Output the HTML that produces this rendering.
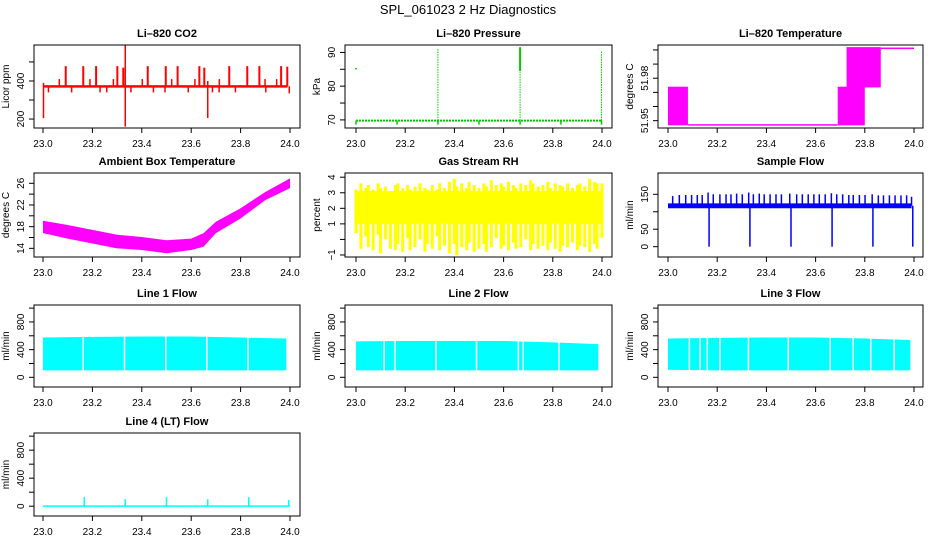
<!DOCTYPE html>
<html><head><meta charset="utf-8">
<style>
html,body{margin:0;padding:0;background:#fff;}
svg{display:block;font-family:"Liberation Sans",Arial,sans-serif;}
</style></head>
<body>
<svg id="chart" width="936" height="540" viewBox="0 0 936 540" xmlns="http://www.w3.org/2000/svg">
<text x="468" y="14" text-anchor="middle" font-size="13">SPL_061023  2 Hz Diagnostics</text>
</svg>
<script>
// ---------- data ----------
const xTicks = [23.0,23.2,23.4,23.6,23.8,24.0];
const xTickLabels = ["23.0","23.2","23.4","23.6","23.8","24.0"];

const co2Base = [365,378];
const co2SpikeT = [23.092,23.163,23.215,23.301,23.325,23.424,23.497,23.545,23.633,23.653,23.754,23.827,23.876,23.964,23.989];
const co2SpikeV = [478,478,478,478,470,478,478,478,478,470,478,478,478,478,475];
const co2SmallT = [23.066,23.190,23.285,23.402,23.521,23.615,23.714,23.899,23.946];
const co2SmallV = [410,410,410,410,410,410,410,410,410];
const co2DownT = [23.022,23.116,23.231,23.258,23.356,23.447,23.494,23.588,23.686,23.713,23.779,23.902,23.997];
const co2DownV = [340,340,340,340,340,340,340,340,340,340,340,340,335];
const co2BigT = [23.002,23.333,23.667];
const co2BigLo = [205,160,205];
const co2BigHi = [390,588,400];

const presBase = 69.8;
const presDipT = [23.0,23.167,23.333,23.5,23.667,23.833,23.998];
const presDipV = [68.6,68.6,68.6,68.6,68.6,68.6,68.6];
const presSpikeT = [23.333,23.667,23.998];
const presSpikeV = [91.0,91.6,90.3];
const presPointT = [23.0,23.667];
const presPointV = [85.0,84.5];

const ltT0 = [23.0,23.081,23.69,23.726,23.865];
const ltT1 = [23.081,23.69,23.80,23.865,24.0];
const ltLo = [51.9467,51.9467,51.9467,51.9735,52.0010];
const ltHi = [51.9740,51.9475,51.9740,52.0020,52.0017];

const ambT = [23.0,23.1,23.2,23.3,23.4,23.5,23.6,23.65,23.7,23.8,23.9,24.0];
const ambLo = [16.8,15.8,14.9,14.0,13.7,13.1,13.7,14.3,16.8,19.5,22.9,25.1];
const ambHi = [19.1,18.3,17.4,16.5,16.1,15.5,15.8,16.8,18.9,21.4,24.4,26.9];

const rhT = [23.00,23.02,23.04,23.05,23.07,23.09,23.10,23.12,23.14,23.16,23.17,23.19,23.21,23.22,23.24,23.26,23.28,23.29,23.31,23.33,23.34,23.36,23.38,23.40,23.41,23.43,23.45,23.46,23.48,23.50,23.52,23.53,23.55,23.57,23.59,23.60,23.62,23.64,23.65,23.67,23.69,23.71,23.72,23.74,23.76,23.78,23.79,23.81,23.83,23.84,23.86,23.88,23.90,23.91,23.93,23.95,23.97,23.98,24.00];
const rhHi = [3.2,3.6,3.3,3.5,3.2,3.6,3.3,3.4,3.1,3.5,3.6,3.3,3.5,3.2,3.4,3.6,3.3,3.2,3.5,3.2,3.6,3.3,3.7,3.9,3.4,3.6,3.3,3.7,3.5,3.3,3.6,3.4,3.8,3.5,3.6,3.4,3.7,3.5,3.3,3.6,3.5,3.8,3.6,3.4,3.5,3.7,3.3,3.6,3.5,3.4,3.6,3.3,3.5,3.6,3.4,3.9,3.7,3.6,3.6];
const rhLo = [0.4,-0.6,0.2,-0.5,-0.7,0.3,-0.9,0.0,-0.6,-0.7,-0.3,-0.8,0.1,-0.7,-0.5,0.0,-0.8,-0.3,-0.6,0.2,-0.7,-0.4,-0.9,-0.3,-1.0,-0.5,-0.7,-0.2,-0.8,-0.6,-0.3,-0.8,-0.5,0.1,-0.6,-0.4,-0.7,-0.2,-0.6,-0.5,0.0,-0.7,-0.3,-0.6,-0.4,-0.7,-0.2,-0.6,-0.8,-0.4,-0.5,-0.2,-0.7,-0.4,-0.5,-0.8,-0.3,-0.6,0.1];

const sfBase = [110,124];
const sfSpikeT = [23.019,23.046,23.072,23.096,23.119,23.139,23.163,23.184,23.211,23.236,23.256,23.279,23.302,23.328,23.347,23.371,23.391,23.415,23.439,23.461,23.495,23.523,23.546,23.570,23.593,23.615,23.639,23.664,23.686,23.710,23.735,23.753,23.778,23.801,23.83,23.855,23.876,23.900,23.923,23.947,23.970,23.99];
const sfSpikeV = [145,148,148,148,148,148,155,150,150,150,150,152,150,155,150,152,150,150,150,150,152,150,150,150,150,150,150,153,150,150,148,148,148,148,150,147,147,147,147,147,147,143];
const sfDipT = [23.167,23.333,23.5,23.667,23.833,23.995];
const sfDipV = [0,0,0,0,0,0];

const l1T = [23.0,23.2,23.4,23.6,23.8,23.985];
const l1Top = [575,585,590,590,575,560];
const l1Bot = [100,100,100,100,100,100];
const l1Gaps = [23.163,23.33,23.497,23.663,23.83];

const l2T = [23.0,23.2,23.4,23.6,23.8,23.985];
const l2Top = [520,525,525,525,505,480];
const l2Bot = [100,100,100,100,100,100];
const l2Gaps = [23.114,23.159,23.325,23.49,23.66,23.68,23.825];

const l3T = [23.0,23.2,23.4,23.6,23.8,23.985];
const l3Top = [560,570,575,575,560,540];
const l3Bot = [110,100,100,100,100,100];
const l3Gaps = [23.087,23.13,23.16,23.211,23.327,23.489,23.659,23.753,23.824,23.919];

const l4Base = [0,12];
const l4SpikeT = [23.167,23.333,23.5,23.667,23.833,23.995];
const l4SpikeV = [130,100,130,100,130,90];

// ---------- helpers ----------
const svg = document.getElementById('chart');
const NS = 'http://www.w3.org/2000/svg';
function mk(tag, attrs, parent){
  const e = document.createElementNS(NS, tag);
  for (const k in attrs) e.setAttribute(k, attrs[k]);
  (parent||svg).appendChild(e);
  return e;
}
const colX23 = [43,356,668], colX24 = [290,602,914];
const colL = [34,345,658], colR = [300,612,923];
const rowT = [45,173,305,433], rowB = [128,257,387,516];

function panel(name, col, row, title, ylab, ylim, yTicks, yLabels){
  const g = mk('g', {});
  
  
  const L = colL[col], R = colR[col], T = rowT[row], B = rowB[row];
  const sx = t => colX23[col] + (t - 23) * (colX24[col] - colX23[col]);
  const sy = v => B - (v - ylim[0]) / (ylim[1] - ylim[0]) * (B - T);
  const plot = mk('g', {}, g);
  
  
  const ax = mk('g', {}, g);
  
  
  const box = mk('rect', {x:L, y:T, width:R-L, height:B-T, fill:'none', stroke:'#000', 'stroke-width':1}, ax);
  
  
  xTicks.forEach((t,i) => {
    mk('line', {x1:sx(t), x2:sx(t), y1:B, y2:B+5, stroke:'#000'}, ax);
    const tx = mk('text', {x:sx(t), y:B+19, 'text-anchor':'middle', 'font-size':10}, ax);
    tx.textContent = xTickLabels[i];
    
    
  });
  yTicks.forEach((v,i) => {
    mk('line', {x1:L-5, x2:L, y1:sy(v), y2:sy(v), stroke:'#000'}, ax);
    if (yLabels[i] !== '') {
      const x = L - 10, y = sy(v);
      const tx = mk('text', {x:x, y:y, 'text-anchor':'middle', 'font-size':10, transform:`rotate(-90 ${x} ${y})`}, ax);
      tx.textContent = yLabels[i];
      
      
    }
  });
  const yx = L - 25, yy = (T + B) / 2;
  const yt = mk('text', {x:yx, y:yy, 'text-anchor':'middle', 'font-size':10, transform:`rotate(-90 ${yx} ${yy})`}, ax);
  yt.textContent = ylab;
  
  
  const tt = mk('text', {x:(L+R)/2, y:T-8, 'text-anchor':'middle', 'font-size':11, 'font-weight':'bold'}, ax);
  tt.textContent = title;
  
  
  return {sx, sy, plot};
}
function vline(p, t, v0, v1, color, w){
  return mk('line', {x1:p.sx(t), x2:p.sx(t), y1:p.sy(v0), y2:p.sy(v1), stroke:color, 'stroke-width':w}, p.plot);
}
function rectBand(p, t0, t1, v0, v1, color){
  const y0 = Math.min(p.sy(v0), p.sy(v1)), h = Math.max(1.5, Math.abs(p.sy(v0) - p.sy(v1)));
  return mk('rect', {x:p.sx(t0), y:y0, width:p.sx(t1)-p.sx(t0), height:h, fill:color}, p.plot);
}
function envelope(p, ts, lo, hi, color){
  let d = '';
  ts.forEach((t,i) => { d += (i ? 'L' : 'M') + p.sx(t) + ' ' + p.sy(hi[i]); });
  for (let i = ts.length - 1; i >= 0; i--) d += 'L' + p.sx(ts[i]) + ' ' + p.sy(lo[i]);
  return mk('path', {d: d + 'Z', fill:color}, p.plot);
}

// ---------- panels ----------
// CO2
let p = panel('co2', 0, 0, 'Li\u2013820 CO2', 'Licor ppm', [153,589], [200,300,400,500], ['200','','400','']);
rectBand(p, 23.0, 23.99, co2Base[0], co2Base[1], '#ff0000');
co2SpikeT.forEach((t,i) => vline(p, t, 372, co2SpikeV[i], '#ff0000', 2));
co2SmallT.forEach((t,i) => vline(p, t, 372, co2SmallV[i], '#ff0000', 1.5));
co2DownT.forEach((t,i) => vline(p, t, 372, co2DownV[i], '#ff0000', 1.5));
co2BigT.forEach((t,i) => vline(p, t, co2BigLo[i], co2BigHi[i], '#ff0000', 1.5));

// Pressure
p = panel('pressure', 1, 0, 'Li\u2013820 Pressure', 'kPa', [67.6,92.2], [70,75,80,85,90], ['70','','80','','90']);
mk('line', {x1:p.sx(23.0), x2:p.sx(24.0), y1:p.sy(presBase), y2:p.sy(presBase), stroke:'#00cc00', 'stroke-width':2, 'stroke-dasharray':'2 1'}, p.plot);
presDipT.forEach((t,i) => vline(p, t, presBase, presDipV[i], '#00cc00', 1.5));
presSpikeT.forEach((t,i) => vline(p, t, presBase, presSpikeV[i], '#00cc00', 1).setAttribute('stroke-dasharray','1.5 1'));
presPointT.forEach((t,i) => vline(p, t, presPointV[i], presPointV[i] + (i ? 7 : 0.4), '#00cc00', 2));

// Li-820 temperature
p = panel('li820-temperature', 2, 0, 'Li\u2013820 Temperature', 'degrees C', [51.9448,52.0035], [51.95,51.96,51.97,51.98,51.99,52.00], ['51.95','','','51.98','','']);
ltT0.forEach((t,i) => rectBand(p, t, ltT1[i], ltLo[i], ltHi[i], '#ff00ff'));

// Ambient box temperature
p = panel('ambient-temperature', 0, 1, 'Ambient Box Temperature', 'degrees C', [12.4,27.9], [14,16,18,20,22,24,26], ['14','','18','','22','','26']);
envelope(p, ambT, ambLo, ambHi, '#ff00ff');

// Gas stream RH
p = panel('gas-stream-rh', 1, 1, 'Gas Stream RH', 'percent', [-1.13,4.27], [-1,0,1,2,3,4], ['\u22121','','1','2','3','4']);
rectBand(p, 23.0, 24.0, 1.0, 3.1, '#ffff00');
rhT.forEach((t,i) => vline(p, t, rhLo[i], rhHi[i], '#ffff00', 3));

// Sample flow
p = panel('sample-flow', 2, 1, 'Sample Flow', 'ml/min', [-29.6,211], [0,50,100,150], ['0','50','','150']);
rectBand(p, 23.0, 23.99, sfBase[0], sfBase[1], '#0000ff');
sfSpikeT.forEach((t,i) => vline(p, t, 117, sfSpikeV[i], '#0000ff', 1.5));
sfDipT.forEach((t,i) => vline(p, t, 117, sfDipV[i], '#0000ff', 1.5));

// Line flows
function linePanel(name, col, row, title, ts, top, bot, gaps){
  const q = panel(name, col, row, title, 'ml/min', [-140,1045], [0,200,400,600,800,1000], ['0','','400','','800','']);
  envelope(q, ts, bot, top, '#00ffff');
  gaps.forEach(t => vline(q, t, 90, 700, '#ffffff', 1.5));
  return q;
}
linePanel('line1-flow', 0, 2, 'Line 1 Flow', l1T, l1Top, l1Bot, l1Gaps);
linePanel('line2-flow', 1, 2, 'Line 2 Flow', l2T, l2Top, l2Bot, l2Gaps);
linePanel('line3-flow', 2, 2, 'Line 3 Flow', l3T, l3Top, l3Bot, l3Gaps);

// Line 4
p = panel('line4-flow', 0, 3, 'Line 4 (LT) Flow', 'ml/min', [-140,1045], [0,200,400,600,800,1000], ['0','','400','','800','']);
rectBand(p, 23.0, 24.0, l4Base[0], l4Base[1], '#00ffff');
l4SpikeT.forEach((t,i) => vline(p, t, 0, l4SpikeV[i], '#00ffff', 1.5));
</script>
</body></html>
